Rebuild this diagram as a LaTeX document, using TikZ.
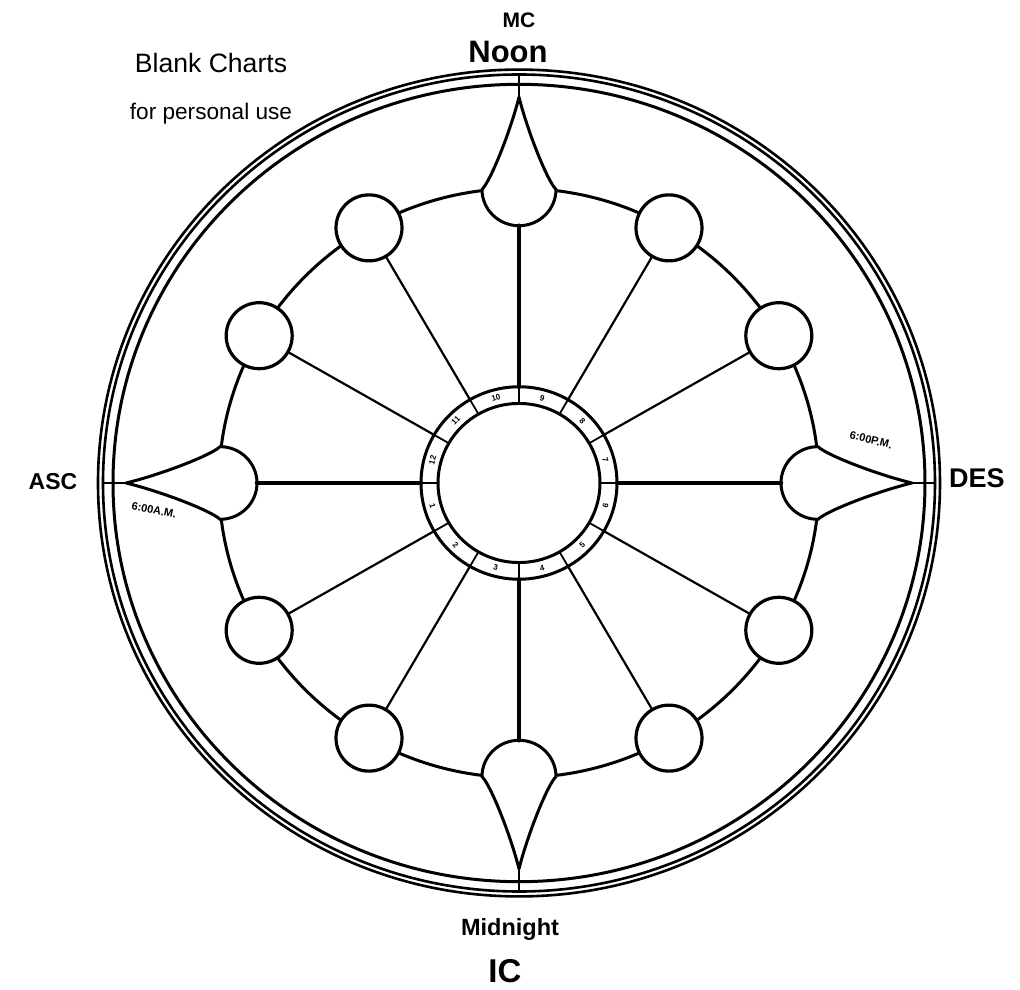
\documentclass[tikz,border=0pt]{standalone}
\usepackage{fontspec}
\setmainfont{Liberation Sans}
\begin{document}
\begin{tikzpicture}[x=1pt,y=1pt,
  line cap=round, line join=round,
  rimline/.style={line width=2.6pt},
  ringline/.style={line width=3pt},
  spoke/.style={line width=2.2pt},
  mainspoke/.style={line width=4.5pt},
  housec/.style={circle, draw, line width=3.2pt, fill=white, minimum size=66pt, inner sep=0pt},
  tear/.style={line width=3pt, fill=white},
  hand/.style={inner sep=0pt, anchor=base},
  hournum/.style={font=\bfseries\fontsize{8}{8}\selectfont, inner sep=0pt},
  timelbl/.style={font=\bfseries\fontsize{11}{11}\selectfont, inner sep=0pt}
]
\useasboundingbox[fill=white] (-519,-507) rectangle (501,483);
\begin{scope}[yscale=0.982]
  \draw[rimline] (0,0) circle (421);
  \draw[rimline] (0,0) circle (416);
  \draw[line width=3pt] (0,0) circle (406);
  \draw[ringline] (0,0) circle (300);
  % inner hour ring
  \draw[line width=3pt] (0,0) circle (98);
  \draw[line width=3pt] (0,0) circle (81);
  \foreach \a in {0,30,...,330} {
    \coordinate (in\a) at (\a:81);
    \coordinate (r\a) at (\a:98);
    \draw[line width=1.8pt] (in\a) -- (r\a);
  }
  % houses
  \foreach \a in {30,60,120,150,210,240,300,330} {
    \node[housec] (h\a) at (\a:300) {};
    \draw[spoke] (r\a) -- (h\a);
  }
  % angular teardrops
  \foreach \a in {0,90,180,270} {
    \begin{scope}[rotate=\a]
      \coordinate (t\a) at (393,0);
      \coordinate (e\a) at (416,0);
      \coordinate (b\a) at (262,0);
      \draw[tear] (299,37) arc[start angle=90, end angle=270, radius=37]
         .. controls (308,-28) and (360,-8) .. (t\a)
         .. controls (360,8) and (308,28) .. cycle;
      \draw[line width=2.6pt] (t\a) -- (e\a);
    \end{scope}
    \draw[mainspoke] (r\a) -- (b\a);
  }
  % hour numbers
  \foreach \n/\a in {9/75,10/105,11/135,12/165,1/195,2/225,3/255,4/285,5/315,6/345,7/15,8/45} {
    \pgfmathsetmacro\rot{\a<180 ? \a-90 : \a+90}
    \node[hournum, rotate=\rot] (n\n) at (\a:89.5) {\n};
  }
\end{scope}
% labels
\node[hand, font=\fontsize{26.6}{28}\selectfont] (title) at (-308,410) {Blank Charts};
\node[hand, font=\fontsize{22.6}{24}\selectfont] (sub) at (-308,363) {for personal use};
\node[inner sep=0pt, font=\bfseries\fontsize{21}{22}\selectfont] (mc) at (0,463) {MC};
\node[hand, font=\bfseries\fontsize{31}{34}\selectfont] (noon) at (-11,420) {Noon};
\node[hand, font=\bfseries\fontsize{23}{26}\selectfont] (asc) at (-466,-7) {ASC};
\node[hand, font=\bfseries\fontsize{27}{30}\selectfont] (des) at (458,-5) {DES};
\node[hand, font=\bfseries\fontsize{23.5}{26}\selectfont] (mid) at (-9,-452) {Midnight};
\node[hand, font=\bfseries\fontsize{33}{36}\selectfont] (ic) at (-14,-499) {IC};
\node[timelbl, rotate=-12] (am) at (-365,-27) {6:00A.M.};
\node[timelbl, rotate=-14] (pm) at (352,43) {6:00P.M.};
\end{tikzpicture}
\end{document}
